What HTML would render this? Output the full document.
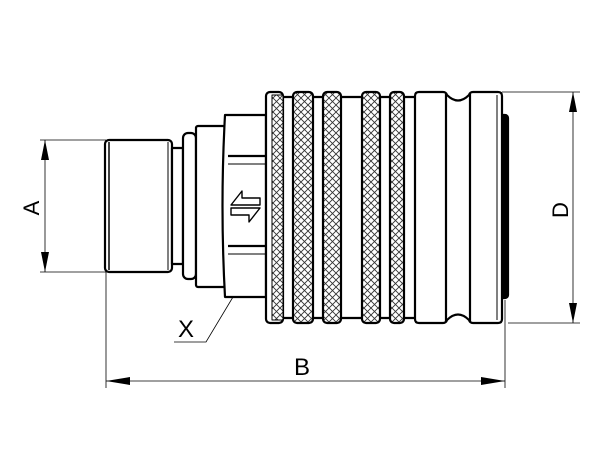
<!DOCTYPE html>
<html><head><style>html,body{margin:0;padding:0;background:#fff}svg{display:block}</style></head><body>
<svg width="600" height="450" viewBox="0 0 600 450" xmlns="http://www.w3.org/2000/svg">
<defs>
<pattern id="kn" width="7" height="7" patternUnits="userSpaceOnUse">
<rect width="7" height="7" fill="#fff"/>
<path d="M0 0L7 7M7 0L0 7" stroke="#333" stroke-width="0.9"/>
</pattern>
</defs>
<g fill="none" stroke="#000" stroke-width="0.8">
<line x1="40" y1="140" x2="106" y2="140"/>
<line x1="40" y1="272" x2="106" y2="272"/>
<line x1="45" y1="140" x2="45" y2="272"/>
<line x1="106" y1="272" x2="106" y2="388"/>
<line x1="505" y1="300" x2="505" y2="388"/>
<line x1="106" y1="381" x2="505" y2="381"/>
<line x1="502" y1="92" x2="580" y2="92"/>
<line x1="508" y1="323" x2="580" y2="323"/>
<line x1="573" y1="92" x2="573" y2="323"/>
<polyline points="174,342 206,342 242,282"/>
</g>
<g fill="#000">
<polygon points="45,140 41,160 49,160"/>
<polygon points="45,272 41,252 49,252"/>
<polygon points="106,381 130,377 130,385"/>
<polygon points="505,381 481,377 481,385"/>
<polygon points="573,92 569,112 577,112"/>
<polygon points="573,323 569,303 577,303"/>
<polygon points="247,274 232,290 238,295"/>
</g>
<g font-family="Liberation Sans, sans-serif" font-size="22" fill="#000">
<text x="178" y="337" font-size="24">X</text>
<text x="294" y="375" font-size="24">B</text>
<text transform="translate(39,208) rotate(-90)" text-anchor="middle">A</text>
<text transform="translate(568,210) rotate(-90)" text-anchor="middle">D</text>
</g>
<g stroke="#000" stroke-width="2.2" fill="#fff" stroke-linejoin="round">
<rect x="105" y="140" width="67" height="132" rx="4"/>
<line x1="109" y1="142" x2="109" y2="270" stroke-width="1.5"/>
<line x1="168" y1="142" x2="168" y2="270" stroke-width="1"/>
<rect x="172" y="148" width="11" height="116"/>
<rect x="183" y="133" width="13" height="146" rx="5"/>
<rect x="196" y="126" width="29" height="161" rx="2"/>
<path d="M225 115 L266 115 L266 297 L225 297 Q220 206 225 115 Z"/>
<line x1="228" y1="156" x2="266" y2="156"/>
<line x1="228" y1="164" x2="266" y2="164" stroke-width="1"/>
<line x1="228" y1="246" x2="266" y2="246"/>
<line x1="228" y1="254" x2="266" y2="254" stroke-width="1"/>
<path d="M231 205 L242 191 L242 198 L260 198 L260 205 Z" stroke-width="1.4"/>
<path d="M260 208 L249 222 L249 215 L231 215 L231 208 Z" stroke-width="1.4"/>
<rect x="500" y="115" width="8" height="183" fill="#000" rx="3"/>
<!-- inner body between bands -->
<rect x="270" y="97" width="150" height="221"/>
<!-- bands -->
<rect x="266" y="92" width="17" height="231" rx="4"/>
<rect x="272" y="95" width="11" height="225" fill="url(#kn)" stroke-width="1"/>
<rect x="293" y="92" width="20" height="231" rx="4" fill="url(#kn)"/>
<rect x="323" y="92" width="18" height="231" rx="4" fill="url(#kn)"/>
<rect x="362" y="92" width="18" height="231" rx="4" fill="url(#kn)"/>
<rect x="390" y="92" width="14" height="231" rx="4" fill="url(#kn)"/>
<path d="M419 92 L443 92 Q446 92 447 95 Q458 106 469 95 Q470 92 473 92 L498 92 Q502 92 502 96 L502 319 Q502 323 498 323 L473 323 Q470 323 469 320 Q458 309 447 320 Q446 323 443 323 L419 323 Q415 323 415 319 L415 96 Q415 92 419 92 Z"/>
<line x1="446" y1="94" x2="446" y2="321"/>
<line x1="470" y1="94" x2="470" y2="321"/>
<line x1="497" y1="95" x2="497" y2="320" stroke-width="1"/>
</g>
</svg>
</body></html>
